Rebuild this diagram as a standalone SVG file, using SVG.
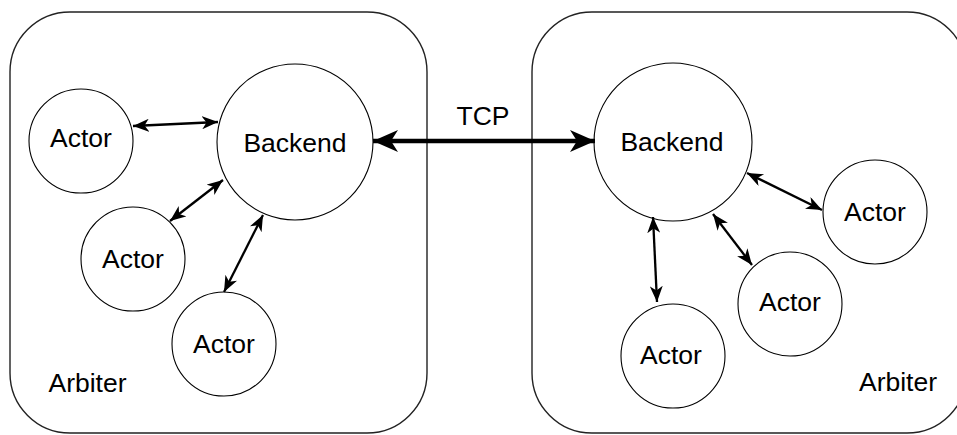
<svg xmlns="http://www.w3.org/2000/svg" width="957" height="435" viewBox="0 0 957 435">
<defs>
<style>
.box{fill:none;stroke:#222;stroke-width:1.4}
.node{fill:#fff;stroke:#000;stroke-width:1.1}
.lbl{font-family:"Liberation Sans",Arial,Helvetica,sans-serif;font-size:26.5px;fill:#000;text-anchor:middle}
.thin{fill:none;stroke:#000;stroke-width:2.3;marker-start:url(#ah);marker-end:url(#ah)}
.thick{fill:none;stroke:#000;stroke-width:4.5;marker-start:url(#ahb);marker-end:url(#ahb)}
</style>
<marker id="ah" viewBox="0 0 16 13" refX="16" refY="6.5" markerWidth="16" markerHeight="13" markerUnits="userSpaceOnUse" orient="auto-start-reverse">
<path d="M16,6.5 L0,0 L4.5,6.5 L0,13 Z" fill="#000"/>
</marker>
<marker id="ahb" viewBox="0 0 25 22" refX="25" refY="11" markerWidth="25" markerHeight="22" markerUnits="userSpaceOnUse" orient="auto-start-reverse">
<path d="M25,11 L0,0 L7,11 L0,22 Z" fill="#000"/>
</marker>
</defs>
<g id="arbiter-left">
<rect class="box" x="10" y="12" width="417" height="421" rx="60" ry="60"/>
<text class="lbl" x="87.5" y="392">Arbiter</text>
</g>
<g id="arbiter-right">
<rect class="box" x="532" y="12" width="435" height="421" rx="60" ry="60"/>
<text class="lbl" x="898" y="391">Arbiter</text>
</g>
<g id="backend-left">
<circle class="node" cx="295" cy="142" r="78"/>
<text class="lbl" x="295" y="152">Backend</text>
</g>
<g id="actor-l1">
<circle class="node" cx="81" cy="141" r="52"/>
<text class="lbl" x="81" y="147">Actor</text>
</g>
<g id="actor-l2">
<circle class="node" cx="133" cy="259" r="52"/>
<text class="lbl" x="133" y="268">Actor</text>
</g>
<g id="actor-l3">
<circle class="node" cx="224" cy="344" r="52"/>
<text class="lbl" x="224" y="353">Actor</text>
</g>
<g id="backend-right">
<circle class="node" cx="673" cy="142" r="79"/>
<text class="lbl" x="672" y="151">Backend</text>
</g>
<g id="actor-r1">
<circle class="node" cx="875" cy="212" r="52"/>
<text class="lbl" x="875" y="221">Actor</text>
</g>
<g id="actor-r2">
<circle class="node" cx="790" cy="304" r="52"/>
<text class="lbl" x="790" y="311">Actor</text>
</g>
<g id="actor-r3">
<circle class="node" cx="673" cy="356" r="52"/>
<text class="lbl" x="671" y="364">Actor</text>
</g>
<g id="connectors">
<path class="thin" d="M133,126 L218,122"/>
<path class="thin" d="M170,221 L223,180"/>
<path class="thin" d="M263,215 L224,292"/>
<path class="thin" d="M747,173 L822,210"/>
<path class="thin" d="M713,214 L752,265"/>
<path class="thin" d="M653,217 L657,302"/>
<path class="thick" d="M373,141 L595,141"/>
<text class="lbl" x="483" y="125">TCP</text>
</g>
</svg>
